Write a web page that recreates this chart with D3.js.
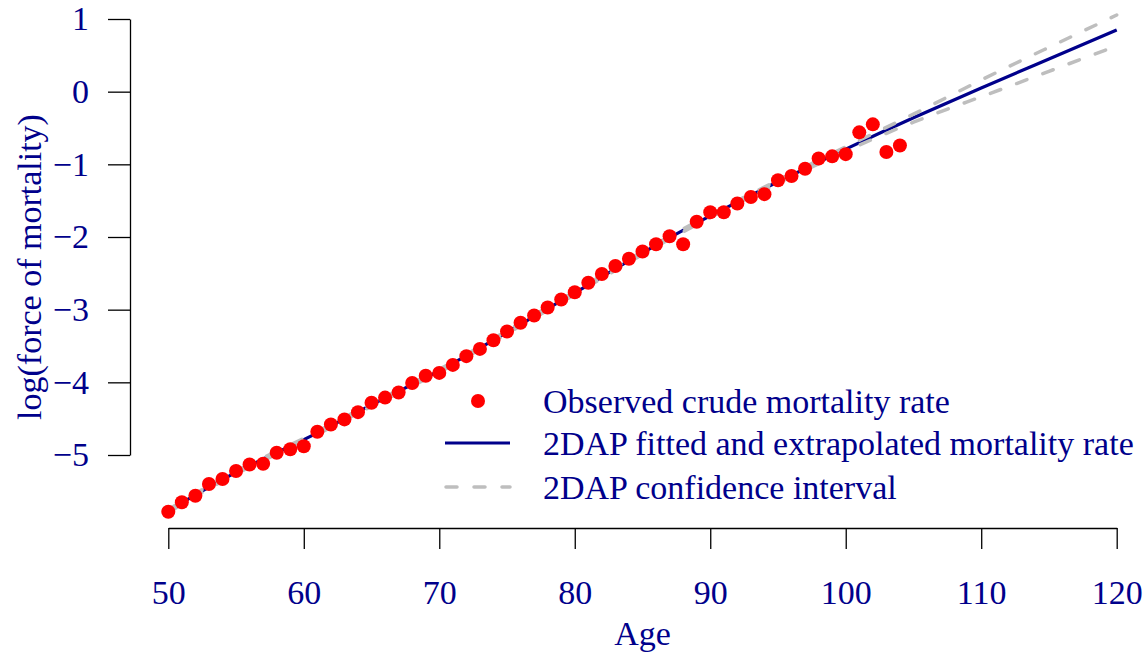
<!DOCTYPE html>
<head>
  <meta charset="utf-8">
  <title>log(force of mortality) by Age</title>
  <style>
    body { margin: 0; background: #fff; }
    text { font-family: "Liberation Serif", "Times New Roman", serif; fill: #00008B; }
    .axis path, .axis line { stroke: #000; stroke-width: 1.3; }
  </style>
</head>
<body>
  <script src="https://cdn.jsdelivr.net/npm/d3@7"></script>
  <script>
    // observed crude rates, one per age
    var ages = [50, 51, 52, 53, 54, 55, 56, 57, 58, 59,
                60, 61, 62, 63, 64, 65, 66, 67, 68, 69,
                70, 71, 72, 73, 74, 75, 76, 77, 78, 79,
                80, 81, 82, 83, 84, 85, 86, 87, 88, 89,
                90, 91, 92, 93, 94, 95, 96, 97, 98, 99,
                100, 101, 102, 103, 104];
    var observed = [-5.78, -5.65, -5.56, -5.40, -5.33, -5.22, -5.13, -5.12, -4.97, -4.92,
                    -4.88, -4.68, -4.58, -4.51, -4.41, -4.28, -4.21, -4.14, -4.01, -3.91,
                    -3.87, -3.76, -3.64, -3.54, -3.42, -3.30, -3.18, -3.08, -2.97, -2.86,
                    -2.76, -2.63, -2.51, -2.40, -2.30, -2.20, -2.10, -1.99, -2.10, -1.79,
                    -1.66, -1.66, -1.54, -1.45, -1.41, -1.22, -1.16, -1.06, -0.92, -0.89,
                    -0.86, -0.56, -0.45, -0.83, -0.74];

    // 2DAP fit and confidence band
    var fitAges = [50, 55, 60, 65, 70, 75, 80, 85, 90, 95, 100, 105, 110, 115, 120];
    var fitted  = [-5.77, -5.24, -4.79, -4.31, -3.84, -3.31, -2.77, -2.22, -1.71, -1.24, -0.79, -0.36, 0.05, 0.45, 0.85];
    var ciUpper = [-5.75, -5.22, -4.77, -4.29, -3.82, -3.29, -2.75, -2.20, -1.69, -1.22, -0.76, -0.31, 0.16, 0.61, 1.055];
    var ciLower = [-5.79, -5.26, -4.81, -4.33, -3.86, -3.33, -2.79, -2.24, -1.73, -1.26, -0.82, -0.42, -0.07, 0.28, 0.63];

    var xTicks = [50, 60, 70, 80, 90, 100, 110, 120];
    var yTicks = [-5, -4, -3, -2, -1, 0, 1];

    var legendLabels = ["Observed crude mortality rate",
                        "2DAP fitted and extrapolated mortality rate",
                        "2DAP confidence interval"];

    var width = 1147, height = 656;
    var blue = "#00008B", grey = "#BEBEBE";

    var x = d3.scaleLinear().domain([50, 120]).range([168.3, 1116.7]);
    var y = d3.scaleLinear().domain([-5, 1]).range([455, 19]);

    var svg = d3.select("body").append("svg")
        .attr("width", width)
        .attr("height", height);

    // axes
    svg.append("g")
        .attr("class", "axis")
        .attr("transform", "translate(0,528)")
        .call(d3.axisBottom(x).tickValues(xTicks).tickFormat(d3.format("d"))
          .tickSize(21).tickSizeOuter(0).tickPadding(31));

    svg.append("g")
        .attr("class", "axis")
        .attr("transform", "translate(130,0)")
        .call(d3.axisLeft(y).tickValues(yTicks).tickFormat(d3.format("d"))
          .tickSize(22).tickSizeOuter(0).tickPadding(19));

    svg.selectAll(".axis text")
        .style("font-size", "34px")
        .attr("fill", blue);

    // axis titles
    svg.append("text")
        .attr("x", x(85))
        .attr("y", 645)
        .attr("text-anchor", "middle")
        .style("font-size", "34px")
        .text("Age");

    svg.append("text")
        .attr("transform", "translate(41,267) rotate(-90)")
        .attr("text-anchor", "middle")
        .style("font-size", "34px")
        .text("log(force of mortality)");

    var fitData = fitAges.map(function(a, i) {
      return {age: a, fit: fitted[i], lo: ciLower[i], hi: ciUpper[i]};
    });

    var lineOf = function(key) {
      return d3.line()
        .x(function(d) { return x(d.age); })
        .y(function(d) { return y(d[key]); })
        .curve(d3.curveNatural);
    };

    // fitted line
    svg.append("path")
        .datum(fitData)
        .attr("fill", "none")
        .attr("stroke", blue)
        .attr("stroke-width", 3.2)
        .attr("d", lineOf("fit"));

    // confidence interval
    ["hi", "lo"].forEach(function(k) {
      svg.append("path")
          .datum(fitData)
          .attr("fill", "none")
          .attr("stroke", grey)
          .attr("stroke-width", 3.5)
          .attr("stroke-linecap", "round")
          .attr("stroke-dasharray", "11,17")
          .attr("d", lineOf(k));
    });

    // observed points
    svg.selectAll(".dot")
        .data(ages.map(function(a, i) { return {age: a, v: observed[i]}; }))
      .enter().append("circle")
        .attr("class", "dot")
        .attr("cx", function(d) { return x(d.age); })
        .attr("cy", function(d) { return y(d.v); })
        .attr("r", 7)
        .attr("fill", "#FF0000");

    // legend
    var legend = svg.append("g");
    var rowY = [401, 443, 487];

    legend.append("circle")
        .attr("cx", 478).attr("cy", rowY[0]).attr("r", 7)
        .attr("fill", "#FF0000");
    legend.append("line")
        .attr("x1", 445).attr("x2", 510).attr("y1", rowY[1]).attr("y2", rowY[1])
        .attr("stroke", blue).attr("stroke-width", 3.2);
    legend.append("line")
        .attr("x1", 446).attr("x2", 510).attr("y1", rowY[2]).attr("y2", rowY[2])
        .attr("stroke", grey).attr("stroke-width", 3.5)
        .attr("stroke-linecap", "round").attr("stroke-dasharray", "11,17");

    legend.selectAll(".lab")
        .data(legendLabels)
      .enter().append("text")
        .attr("class", "lab")
        .attr("x", 543)
        .attr("y", function(d, i) { return rowY[i]; })
        .attr("dy", "0.35em")
        .style("font-size", "34px")
        .text(function(d) { return d; });
  </script>
</body>
